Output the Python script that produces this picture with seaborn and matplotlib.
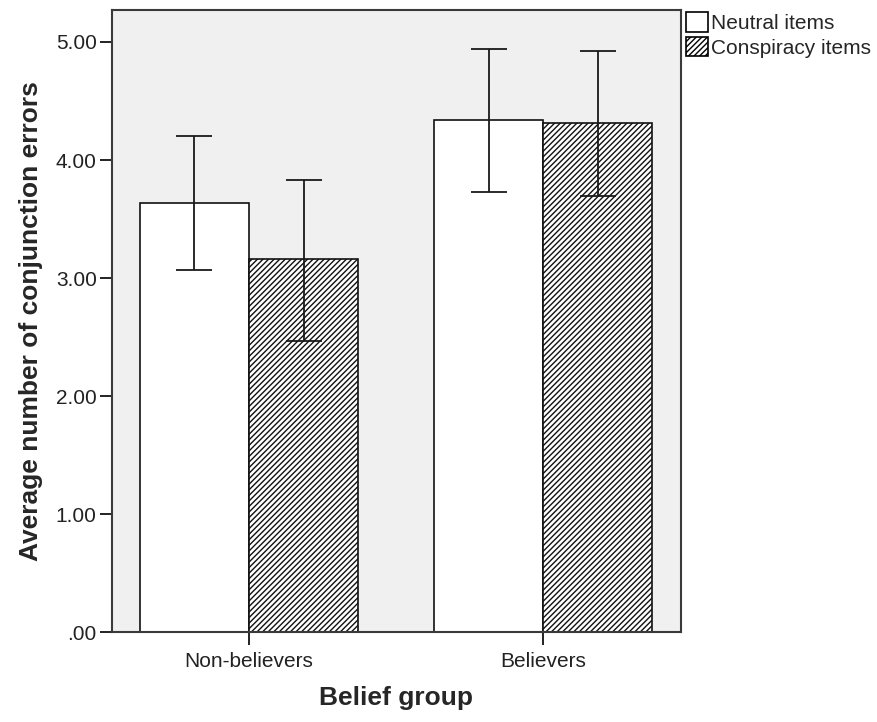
import matplotlib

matplotlib.use("Agg")

import matplotlib.pyplot as plt
import pandas as pd
import seaborn as sns
from matplotlib.patches import Patch

groups = ["Non-believers", "Believers"]
item_types = ["Neutral items", "Conspiracy items"]
means_neutral = [3.64, 4.34]
means_conspiracy = [3.16, 4.31]
ci_low_neutral = [3.07, 3.73]
ci_high_neutral = [4.20, 4.94]
ci_low_conspiracy = [2.47, 3.70]
ci_high_conspiracy = [3.83, 4.92]
y_ticks = [0, 1, 2, 3, 4, 5]
y_tick_labels = [".00", "1.00", "2.00", "3.00", "4.00", "5.00"]

df = pd.DataFrame(
    {
        "group": groups * 2,
        "items": [item_types[0]] * 2 + [item_types[1]] * 2,
        "mean": means_neutral + means_conspiracy,
        "lo": ci_low_neutral + ci_low_conspiracy,
        "hi": ci_high_neutral + ci_high_conspiracy,
    }
)

sns.set_theme(style="white")
plt.rcParams.update(
    {
        "font.family": ["Liberation Sans", "DejaVu Sans"],
        "hatch.linewidth": 1.0,
        "hatch.color": "black",
    }
)

fig = plt.figure(figsize=(8.77, 7.22), dpi=100)
ax = fig.add_axes([0.1277, 0.124, 0.6488, 0.862])
ax.set_facecolor("#f0f0f0")

sns.barplot(
    data=df,
    x="group",
    y="mean",
    hue="items",
    order=groups,
    hue_order=item_types,
    palette=["white", "white"],
    edgecolor="#111111",
    linewidth=1.2,
    width=0.742,
    gap=0,
    errorbar=None,
    legend=False,
    ax=ax,
)

# second hue level gets the diagonal hatch; error bars at the bar centres
n = len(groups)
patches = [p for p in ax.patches][: 2 * n]
for i, p in enumerate(patches):
    if i >= n:
        p.set_hatch("//////")
    row = df.iloc[i]
    xc = p.get_x() + p.get_width() / 2
    ax.errorbar(
        xc,
        row["mean"],
        yerr=[[row["mean"] - row["lo"]], [row["hi"] - row["mean"]]],
        fmt="none",
        ecolor="#1a1a1a",
        elinewidth=1.3,
        capsize=13,
        capthick=1.3,
        zorder=4,
    )

ax.set_xlim(-0.466, 1.469)
ax.set_ylim(0, 5.27)
ax.set_yticks(y_ticks)
ax.set_yticklabels(y_tick_labels)

for side in ["left", "right", "top", "bottom"]:
    ax.spines[side].set_visible(True)
    ax.spines[side].set_color("#3a3a3a")
    ax.spines[side].set_linewidth(1.5)

ax.tick_params(axis="both", which="major", direction="out", length=9, width=1.4,
               color="#222222", labelsize=15, labelcolor="#222222")
ax.tick_params(axis="x", pad=5)
ax.tick_params(axis="y", pad=2, left=True)
ax.tick_params(axis="x", bottom=True)

ax.set_xlabel("Belief group", fontsize=19, fontweight="bold", labelpad=11)
ax.set_ylabel("Average number of conjunction errors", fontsize=19, fontweight="bold", labelpad=9)

handles = [
    Patch(facecolor="white", edgecolor="black", linewidth=1.2, label=item_types[0]),
    Patch(facecolor="white", edgecolor="black", linewidth=1.2, hatch="//////", label=item_types[1]),
]
ax.legend(
    handles=handles,
    loc="upper left",
    bbox_to_anchor=(0.995, 1.01),
    frameon=False,
    fontsize=15,
    handlelength=1.05,
    handleheight=1.05,
    handletextpad=0.12,
    labelspacing=0.2,
    borderaxespad=0.3,
    borderpad=0.1,
)

fig.savefig("out.png", dpi=100, facecolor="white")
plt.close(fig)
